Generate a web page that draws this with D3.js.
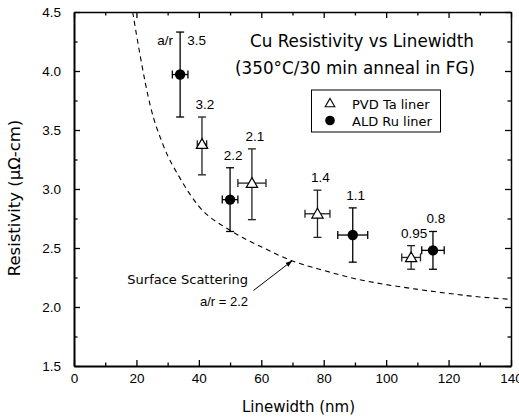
<!DOCTYPE html>
<html>
<head>
<meta charset="utf-8">
<script src="https://cdn.jsdelivr.net/npm/d3@7"></script>
<style>
  html, body { margin: 0; padding: 0; background: #fff; }
  svg { display: block; }
</style>
</head>
<body>
<svg id="chart" width="519" height="419"></svg>
<script>
// ---- data ----
const xTicks = [0, 20, 40, 60, 80, 100, 120, 140];
const yTicks = [1.5, 2.0, 2.5, 3.0, 3.5, 4.0, 4.5];

// PVD Ta liner (open triangles)
const taX     = [41, 57, 78, 108];
const taY     = [3.38, 3.05, 2.79, 2.42];
const taYLow  = [3.12, 2.74, 2.59, 2.32];
const taYHigh = [3.61, 3.34, 2.99, 2.52];
const taXErr  = [1.5, 4.5, 4.0, 3.0];
const taLabels = ["3.2", "2.1", "1.4", "0.95"];

// ALD Ru liner (filled circles)
const ruX     = [34, 50, 89.3, 115];
const ruY     = [3.97, 2.91, 2.61, 2.48];
const ruYLow  = [3.61, 2.64, 2.38, 2.32];
const ruYHigh = [4.33, 3.18, 2.84, 2.64];
const ruXErr  = [2.5, 2.5, 4.8, 3.6];
const ruLabels = ["3.5", "2.2", "1.1", "0.8"];

// Surface scattering curve (a/r = 2.2)
const curveX = [18.8, 21.2, 24.4, 28.6, 34, 39.8, 50, 60, 70, 80, 90, 100, 110, 120, 130, 140];
const curveY = [4.5, 4.13, 3.71, 3.37, 3.09, 2.86, 2.65, 2.51, 2.39, 2.31, 2.24, 2.19, 2.15, 2.115, 2.085, 2.065];

// ---- layout ----
const W = 519, H = 419;
const margin = { left: 74, right: 8, top: 12, bottom: 53 };
const svg = d3.select("#chart");
const x = d3.scaleLinear().domain([0, 140]).range([margin.left, W - margin.right]);
const y = d3.scaleLinear().domain([1.5, 4.5]).range([H - margin.bottom, margin.top]);

const numFont = "'Liberation Sans', Arial, sans-serif";
const txtFont = "'DejaVu Sans', Verdana, sans-serif";

svg.append("defs").append("clipPath").attr("id", "plotclip")
  .append("rect").attr("x", x(0)).attr("y", y(4.5))
  .attr("width", x(140) - x(0)).attr("height", y(1.5) - y(4.5));

// minor ticks
const xMinor = d3.range(10, 140, 20);
const yMinor = d3.range(1.75, 4.5, 0.5);

function styleAxis(g, sw) {
  g.select(".domain").attr("stroke", "#000").attr("stroke-width", sw);
  g.selectAll(".tick line").attr("stroke", "#000").attr("stroke-width", 1.3);
  g.selectAll(".tick text").attr("font-family", numFont).attr("font-size", 13.5).attr("fill", "#000");
}

// bottom
const gB = svg.append("g").attr("transform", `translate(0,${y(1.5)})`)
  .call(d3.axisBottom(x).tickValues(xTicks).tickSizeInner(-6).tickSizeOuter(0).tickPadding(7).tickFormat(d3.format("d")));
styleAxis(gB, 2);
svg.append("g").attr("transform", `translate(0,${y(1.5)})`)
  .call(d3.axisBottom(x).tickValues(xMinor).tickSizeInner(-3.5).tickSizeOuter(0).tickFormat(""))
  .call(g => { g.select(".domain").remove(); g.selectAll("line").attr("stroke", "#000").attr("stroke-width", 1.3); });

// top
const gT = svg.append("g").attr("transform", `translate(0,${y(4.5)})`)
  .call(d3.axisTop(x).tickValues(xTicks).tickSizeInner(-6).tickSizeOuter(0).tickFormat(""));
styleAxis(gT, 1.5);
svg.append("g").attr("transform", `translate(0,${y(4.5)})`)
  .call(d3.axisTop(x).tickValues(xMinor).tickSizeInner(-3.5).tickSizeOuter(0).tickFormat(""))
  .call(g => { g.select(".domain").remove(); g.selectAll("line").attr("stroke", "#000").attr("stroke-width", 1.3); });

// left
const gL = svg.append("g").attr("transform", `translate(${x(0)},0)`)
  .call(d3.axisLeft(y).tickValues(yTicks).tickSizeInner(-6).tickSizeOuter(0).tickPadding(13).tickFormat(d3.format(".1f")));
styleAxis(gL, 2);
svg.append("g").attr("transform", `translate(${x(0)},0)`)
  .call(d3.axisLeft(y).tickValues(yMinor).tickSizeInner(-3.5).tickSizeOuter(0).tickFormat(""))
  .call(g => { g.select(".domain").remove(); g.selectAll("line").attr("stroke", "#000").attr("stroke-width", 1.3); });

// right
const gR = svg.append("g").attr("transform", `translate(${x(140)},0)`)
  .call(d3.axisRight(y).tickValues(yTicks).tickSizeInner(-6).tickSizeOuter(0).tickFormat(""));
styleAxis(gR, 1.5);
svg.append("g").attr("transform", `translate(${x(140)},0)`)
  .call(d3.axisRight(y).tickValues(yMinor).tickSizeInner(-3.5).tickSizeOuter(0).tickFormat(""))
  .call(g => { g.select(".domain").remove(); g.selectAll("line").attr("stroke", "#000").attr("stroke-width", 1.3); });

// axis titles
svg.append("text").attr("x", (x(0) + x(140)) / 2 + 6).attr("y", 412)
  .attr("text-anchor", "middle").attr("font-family", txtFont).attr("font-size", 15)
  .text("Linewidth (nm)");
svg.append("text").attr("transform", `translate(20,198) rotate(-90)`)
  .attr("text-anchor", "middle").attr("font-family", txtFont).attr("font-size", 16.5)
  .text("Resistivity (µΩ-cm)");

// dashed curve
const curvePts = curveX.map((d, i) => [d, curveY[i]]);
svg.append("path").attr("clip-path", "url(#plotclip)")
  .datum(curvePts)
  .attr("d", d3.line().x(d => x(d[0])).y(d => y(d[1])).curve(d3.curveMonotoneX))
  .attr("fill", "none").attr("stroke", "#000").attr("stroke-width", 1.1)
  .attr("stroke-dasharray", "5,4");

// error bars
function errorBars(xs, ys, lo, hi, xe, color) {
  const g = svg.append("g").attr("stroke", color).attr("stroke-width", 1.3).attr("fill", "none");
  xs.forEach((xv, i) => {
    const cx = x(xv), cy = y(ys[i]);
    g.append("line").attr("x1", cx).attr("x2", cx).attr("y1", y(lo[i])).attr("y2", y(hi[i]));
    g.append("line").attr("x1", cx - 4).attr("x2", cx + 4).attr("y1", y(lo[i])).attr("y2", y(lo[i]));
    g.append("line").attr("x1", cx - 4).attr("x2", cx + 4).attr("y1", y(hi[i])).attr("y2", y(hi[i]));
    const xl = x(xv - xe[i]), xr = x(xv + xe[i]);
    g.append("line").attr("x1", xl).attr("x2", xr).attr("y1", cy).attr("y2", cy);
    g.append("line").attr("x1", xl).attr("x2", xl).attr("y1", cy - 4).attr("y2", cy + 4);
    g.append("line").attr("x1", xr).attr("x2", xr).attr("y1", cy - 4).attr("y2", cy + 4);
  });
}
errorBars(taX, taY, taYLow, taYHigh, taXErr, "#222");
errorBars(ruX, ruY, ruYLow, ruYHigh, ruXErr, "#000");

// markers
const tri = d3.symbol().type(d3.symbolTriangle).size(55);
svg.append("g").selectAll("path").data(taX).join("path")
  .attr("transform", (d, i) => `translate(${x(d)},${y(taY[i]) + 1})`)
  .attr("d", tri()).attr("fill", "#fff").attr("stroke", "#000").attr("stroke-width", 1.2);
svg.append("g").selectAll("circle").data(ruX).join("circle")
  .attr("cx", d => x(d)).attr("cy", (d, i) => y(ruY[i])).attr("r", 5.2).attr("fill", "#000");

// value labels
function labels(xs, hi, texts, skipFirst) {
  svg.append("g").selectAll("text").data(texts).join("text")
    .filter((d, i) => !(skipFirst && i === 0))
    .attr("x", d => x(xs[texts.indexOf(d)]) + 3)
    .attr("y", d => y(hi[texts.indexOf(d)]) - 8)
    .attr("text-anchor", "middle").attr("font-family", numFont).attr("font-size", 13.5)
    .text(d => d);
}
labels(taX, taYHigh, taLabels, false);
labels(ruX, ruYHigh, ruLabels, true);
// first label sits beside its error bar with "a/r"
svg.append("text").attr("x", x(ruX[0]) + 7).attr("y", y(ruYHigh[0]) + 13)
  .attr("font-family", numFont).attr("font-size", 13.5).text(ruLabels[0]);
svg.append("text").attr("x", x(ruX[0]) - 7).attr("y", y(ruYHigh[0]) + 13)
  .attr("text-anchor", "end").attr("font-family", numFont).attr("font-size", 13.5).text("a/r");

// title
svg.append("text").attr("x", 362).attr("y", 47).attr("text-anchor", "middle")
  .attr("font-family", txtFont).attr("font-size", 16.8).text("Cu Resistivity vs Linewidth");
svg.append("text").attr("x", 355).attr("y", 74).attr("text-anchor", "middle")
  .attr("font-family", txtFont).attr("font-size", 16.8).text("(350°C/30 min anneal in FG)");

// legend
const lg = svg.append("g");
lg.append("rect").attr("x", 311.5).attr("y", 90).attr("width", 129).attr("height", 42)
  .attr("fill", "#fff").attr("stroke", "#000").attr("stroke-width", 1);
lg.append("path").attr("transform", "translate(330,104)").attr("d", d3.symbol().type(d3.symbolTriangle).size(40)())
  .attr("fill", "#fff").attr("stroke", "#000").attr("stroke-width", 1.1);
lg.append("circle").attr("cx", 330).attr("cy", 120.5).attr("r", 4.8).attr("fill", "#000");
lg.append("text").attr("x", 352).attr("y", 109).attr("font-family", txtFont).attr("font-size", 13).text("PVD Ta liner");
lg.append("text").attr("x", 352).attr("y", 125.5).attr("font-family", txtFont).attr("font-size", 13).text("ALD Ru liner");

// annotation
svg.append("text").attr("x", 248).attr("y", 284).attr("text-anchor", "end")
  .attr("font-family", txtFont).attr("font-size", 13).text("Surface Scattering");
svg.append("text").attr("x", 248).attr("y", 306).attr("text-anchor", "end")
  .attr("font-family", numFont).attr("font-size", 13).text("a/r = 2.2");
// arrow
const ax0 = x(57.5), ay0 = y(2.14), ax1 = x(69.8), ay1 = y(2.39);
svg.append("defs").append("marker").attr("id", "ah").attr("viewBox", "0 0 10 10")
  .attr("refX", 9).attr("refY", 5).attr("markerWidth", 7).attr("markerHeight", 7).attr("orient", "auto")
  .append("path").attr("d", "M0,1.5 L10,5 L0,8.5 Z").attr("fill", "#000");
svg.append("line").attr("x1", ax0).attr("y1", ay0).attr("x2", ax1).attr("y2", ay1)
  .attr("stroke", "#000").attr("stroke-width", 1).attr("marker-end", "url(#ah)");
</script>
</body>
</html>
